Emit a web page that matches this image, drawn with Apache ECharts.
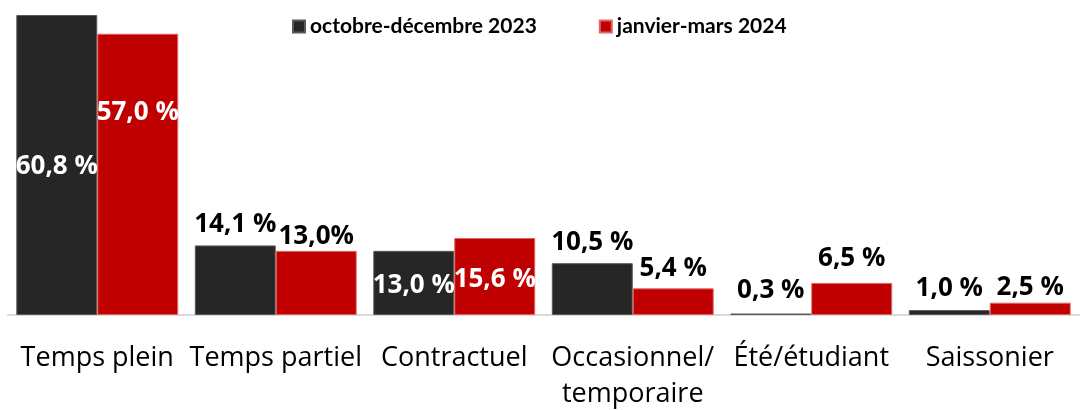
<!DOCTYPE html>
<html>
<head>
<meta charset="utf-8">
<script src="https://cdn.jsdelivr.net/npm/echarts@6/dist/echarts.min.js"></script>
<style>
html,body{margin:0;padding:0;background:#fff;}
#chart{width:1083px;height:410px;}
</style>
</head>
<body>
<div id="chart"></div>
<script>
// types d'emploi
var categories = ['Temps plein', 'Temps partiel', 'Contractuel', 'Occasionnel/\ntemporaire', 'Été/étudiant', 'Saissonier'];
var seriesNames = ['octobre-décembre 2023', 'janvier-mars 2024'];
var valuesOctDec = [60.8, 14.1, 13.0, 10.5, 0.3, 1.0];
var valuesJanMar = [57.0, 13.0, 15.6, 5.4, 6.5, 2.5];
var labelsOctDec = ['60,8 %', '14,1 %', '13,0 %', '10,5 %', '0,3 %', '1,0 %'];
var labelsJanMar = ['57,0 %', '13,0%', '15,6 %', '5,4 %', '6,5 %', '2,5 %'];

var FONT = "'Open Sans', sans-serif";
var FONT_LEG = "Lato, sans-serif";

// placement des étiquettes comme dans Excel
var placeOctDec = [
	{position: 'inside', color: '#fff', offset: [0, 2]},
	{position: 'top', distance: 8},
	{position: 'inside', color: '#fff', offset: [0, 3]},
	{position: 'top', distance: 8},
	{position: 'top', distance: 10},
	{position: 'top', distance: 8}
];
var placeJanMar = [
	{position: 'insideTop', distance: 66, color: '#fff'},
	{position: 'top', distance: 1},
	{position: 'inside', color: '#fff', offset: [0, 3]},
	{position: 'top', distance: 7},
	{position: 'top', distance: 11},
	{position: 'top', distance: 2}
];

function buildData(values, labels, place){
	return values.map(function(v, i){
		var lab = {show: true, formatter: labels[i], color: '#000'};
		for (var k in place[i]) lab[k] = place[i][k];
		return {value: v, label: lab};
	});
}

var dom = document.getElementById('chart');
var myChart = echarts.init(dom);
var option = {
	animation: false,
	textStyle: {fontFamily: FONT},
	legend: {
		left: 287,
		top: 11,
		itemWidth: 12,
		itemHeight: 12,
		itemGap: 62,
		icon: 'rect',
		textStyle: {fontFamily: FONT_LEG, fontSize: 21, fontWeight: 'bold', color: '#000'},
		data: seriesNames
	},
	grid: {left: 8, right: 4, top: 15, bottom: 95, outerBoundsMode: 'none'},
	xAxis: {
		type: 'category',
		data: categories,
		axisLine: {lineStyle: {color: '#d9d9d9', width: 2}},
		axisTick: {show: false},
		axisLabel: {
			interval: 0,
			margin: 25,
			fontFamily: FONT,
			fontSize: 27,
			lineHeight: 36,
			color: '#000'
		}
	},
	yAxis: {
		type: 'value',
		min: 0,
		max: 60.8,
		show: false,
		splitLine: {show: false}
	},
	series: [
		{
			name: seriesNames[0],
			type: 'bar',
			barGap: '0%',
			barCategoryGap: '9.3%',
			itemStyle: {color: '#262626', borderColor: '#595959', borderWidth: 1},
			label: {fontFamily: FONT, fontSize: 26, fontWeight: 'bold'},
			data: buildData(valuesOctDec, labelsOctDec, placeOctDec)
		},
		{
			name: seriesNames[1],
			type: 'bar',
			itemStyle: {color: '#c00000', borderColor: '#e06666', borderWidth: 1},
			label: {fontFamily: FONT, fontSize: 26, fontWeight: 'bold'},
			data: buildData(valuesJanMar, labelsJanMar, placeJanMar)
		}
	]
};
if (option && typeof option === "object") {
	myChart.setOption(option, true);
}
</script>
</body>
</html>
